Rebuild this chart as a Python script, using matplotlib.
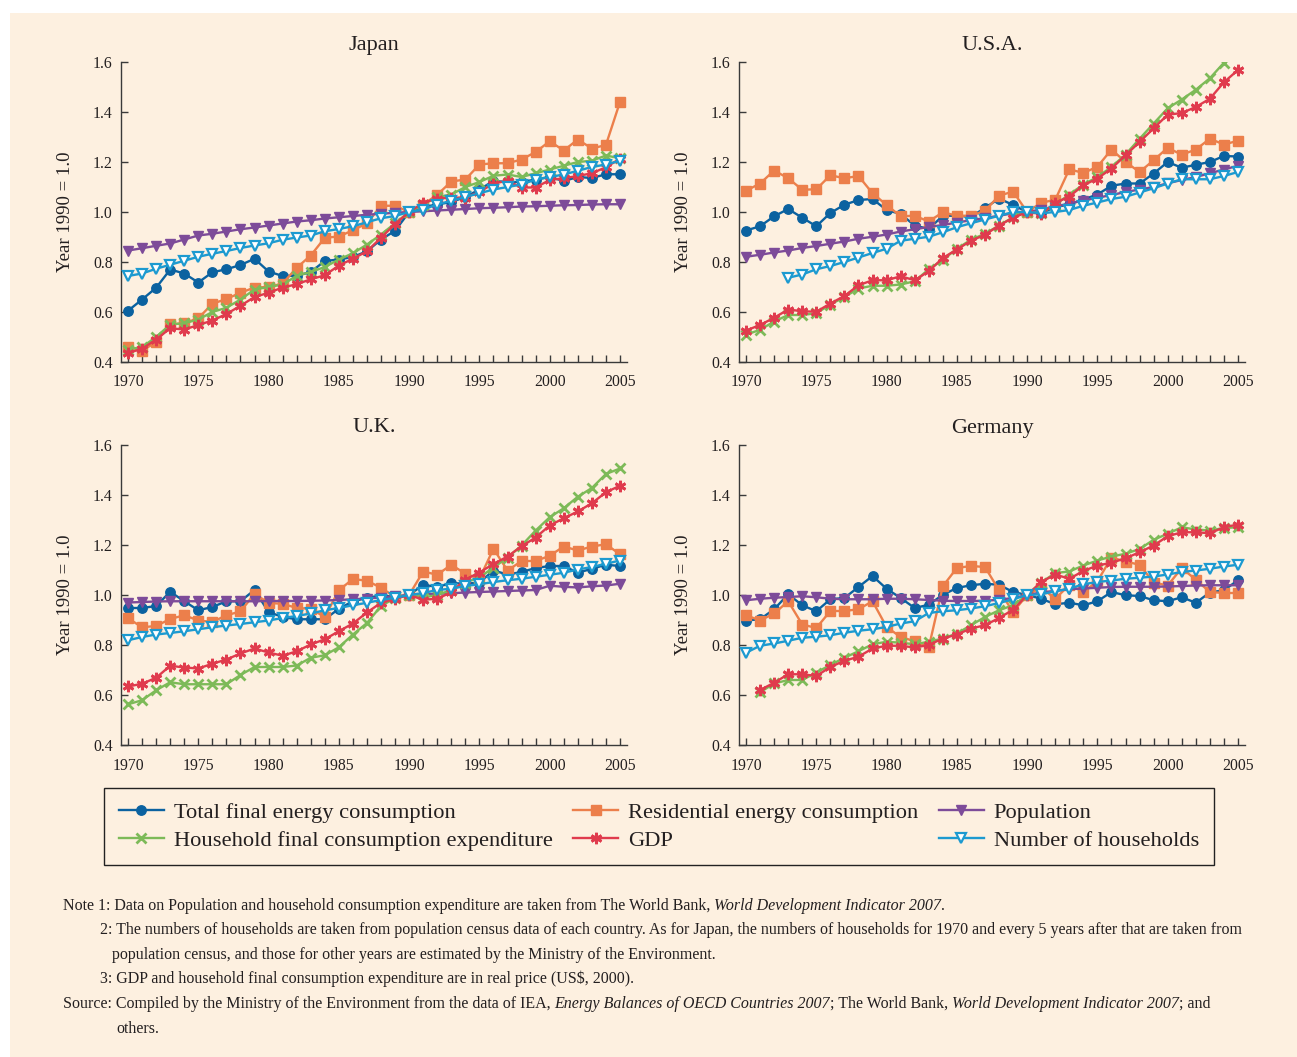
import numpy as np
import matplotlib
matplotlib.use("Agg")
import matplotlib.pyplot as plt
from matplotlib.ticker import MultipleLocator, FormatStrFormatter

plt.rcParams['font.family'] = ['Liberation Serif', 'DejaVu Serif']

nan = np.nan
years = list(range(1970, 2006))

countries = ["Japan", "U.S.A.", "U.K.", "Germany"]
series_names = ["Total final energy consumption", "Residential energy consumption", "Population",
                "Household final consumption expenditure", "GDP", "Number of households"]

# ---------------- Japan ----------------
jp_total = [0.605, 0.65, 0.697, 0.77, 0.754, 0.718, 0.759, 0.771, 0.788, 0.813,
            0.762, 0.744, 0.745, 0.76, 0.804, 0.81, 0.82, 0.843, 0.89, 0.925,
            1.0, 1.02, 1.03, 1.04, 1.06, 1.09, 1.124, 1.12, 1.12, 1.13,
            1.14, 1.124, 1.14, 1.136, 1.151, 1.151]
jp_resid = [0.462, 0.445, 0.48, 0.551, 0.555, 0.575, 0.633, 0.652, 0.677, 0.698,
            0.70, 0.714, 0.777, 0.826, 0.897, 0.902, 0.927, 0.955, 1.025, 1.025,
            1.0, 1.03, 1.069, 1.122, 1.13, 1.19, 1.195, 1.195, 1.21, 1.24,
            1.283, 1.246, 1.29, 1.254, 1.268, 1.44]
jp_pop = [0.846, 0.855, 0.865, 0.874, 0.89, 0.906, 0.913, 0.922, 0.931, 0.938,
          0.946, 0.954, 0.962, 0.967, 0.974, 0.979, 0.984, 0.989, 0.993, 0.997,
          1.0, 1.003, 1.006, 1.009, 1.012, 1.015, 1.017, 1.019, 1.022, 1.023,
          1.025, 1.027, 1.028, 1.030, 1.031, 1.031]
jp_hhexp = [0.45, 0.46, 0.50, 0.55, 0.555, 0.57, 0.60, 0.617, 0.65, 0.69,
            0.70, 0.71, 0.745, 0.76, 0.78, 0.81, 0.835, 0.87, 0.91, 0.955,
            1.0, 1.03, 1.06, 1.07, 1.10, 1.12, 1.145, 1.15, 1.14, 1.155,
            1.17, 1.185, 1.20, 1.205, 1.226, 1.215]
jp_gdp = [0.436, 0.453, 0.49, 0.535, 0.53, 0.548, 0.566, 0.592, 0.625, 0.66,
          0.677, 0.698, 0.711, 0.731, 0.747, 0.786, 0.813, 0.843, 0.897, 0.952,
          1.0, 1.037, 1.054, 1.057, 1.058, 1.08, 1.114, 1.125, 1.098, 1.098,
          1.128, 1.135, 1.144, 1.155, 1.179, 1.213]
jp_house = [0.744, 0.754, 0.773, 0.789, 0.805, 0.821, 0.833, 0.844, 0.856, 0.866,
            0.875, 0.889, 0.898, 0.906, 0.923, 0.932, 0.943, 0.959, 0.975, 0.984,
            1.0, 1.01, 1.03, 1.045, 1.06, 1.075, 1.09, 1.10, 1.11, 1.13,
            1.14, 1.15, 1.165, 1.18, 1.19, 1.205]

# ---------------- U.S.A. ----------------
us_total = [0.926, 0.943, 0.983, 1.012, 0.977, 0.943, 0.996, 1.029, 1.048, 1.052,
            1.008, 0.992, 0.946, 0.932, 0.985, 0.985, 0.981, 1.016, 1.054, 1.028,
            1.0, 0.995, 1.02, 1.03, 1.05, 1.07, 1.105, 1.114, 1.114, 1.154,
            1.2, 1.177, 1.189, 1.2, 1.224, 1.222]
us_resid = [1.085, 1.114, 1.166, 1.135, 1.089, 1.091, 1.147, 1.135, 1.144, 1.075,
            1.028, 0.983, 0.985, 0.962, 0.999, 0.985, 0.985, 1.005, 1.065, 1.082,
            1.0, 1.037, 1.049, 1.171, 1.156, 1.181, 1.25, 1.2, 1.16, 1.207,
            1.257, 1.229, 1.25, 1.293, 1.27, 1.285]
us_pop = [0.821, 0.829, 0.838, 0.846, 0.856, 0.864, 0.873, 0.882, 0.893, 0.901,
          0.91, 0.922, 0.931, 0.94, 0.948, 0.958, 0.967, 0.976, 0.985, 0.995,
          1.0, 1.01, 1.02, 1.035, 1.046, 1.057, 1.068, 1.08, 1.09, 1.10,
          1.115, 1.128, 1.14, 1.155, 1.17, 1.185]
us_hhexp = [0.509, 0.529, 0.562, 0.588, 0.588, 0.595, 0.63, 0.66, 0.694, 0.705,
            0.705, 0.71, 0.723, 0.771, 0.809, 0.853, 0.889, 0.913, 0.946, 0.979,
            1.0, 0.995, 1.03, 1.07, 1.11, 1.14, 1.18, 1.23, 1.293, 1.354,
            1.415, 1.45, 1.489, 1.535, 1.597, nan]
us_gdp = [0.526, 0.548, 0.577, 0.61, 0.603, 0.601, 0.634, 0.664, 0.707, 0.727,
          0.727, 0.743, 0.727, 0.763, 0.816, 0.85, 0.885, 0.909, 0.946, 0.977,
          1.0, 0.992, 1.036, 1.062, 1.107, 1.134, 1.174, 1.227, 1.28, 1.335,
          1.389, 1.396, 1.42, 1.453, 1.519, 1.568]
us_house = [nan, nan, nan, 0.737, 0.75, 0.771, 0.784, 0.8, 0.818, 0.836,
            0.853, 0.885, 0.893, 0.901, 0.919, 0.939, 0.955, 0.97, 0.985, 1.0,
            1.0, 0.995, 1.0, 1.008, 1.025, 1.038, 1.052, 1.061, 1.078, 1.095,
            1.114, 1.131, 1.131, 1.131, 1.144, 1.16]

# ---------------- U.K. ----------------
uk_total = [0.948, 0.948, 0.956, 1.013, 0.975, 0.939, 0.952, 0.975, 0.975, 1.02,
            0.932, 0.912, 0.903, 0.903, 0.903, 0.945, 0.975, 0.988, 0.999, 0.992,
            1.0, 1.041, 1.032, 1.048, 1.045, 1.05, 1.098, 1.082, 1.092, 1.108,
            1.116, 1.116, 1.089, 1.105, 1.121, 1.116]
uk_resid = [0.907, 0.871, 0.876, 0.904, 0.919, 0.898, 0.892, 0.919, 0.934, 1.005,
            0.968, 0.965, 0.948, 0.945, 0.912, 1.019, 1.064, 1.057, 1.029, 0.992,
            1.0, 1.094, 1.081, 1.121, 1.085, 1.065, 1.185, 1.098, 1.136, 1.136,
            1.157, 1.194, 1.178, 1.194, 1.203, 1.163]
uk_pop = [0.97, 0.972, 0.974, 0.975, 0.975, 0.975, 0.975, 0.975, 0.975, 0.975,
          0.976, 0.976, 0.976, 0.977, 0.978, 0.98, 0.983, 0.986, 0.99, 0.995,
          1.0, 1.003, 1.005, 1.007, 1.01, 1.012, 1.014, 1.016, 1.018, 1.02,
          1.037, 1.033, 1.03, 1.035, 1.038, 1.045]
uk_hhexp = [0.563, 0.579, 0.619, 0.651, 0.643, 0.643, 0.643, 0.643, 0.68, 0.712,
            0.712, 0.712, 0.718, 0.749, 0.759, 0.791, 0.842, 0.888, 0.956, 0.988,
            1.0, 0.99, 1.0, 1.02, 1.05, 1.07, 1.11, 1.15, 1.198, 1.258,
            1.311, 1.347, 1.393, 1.428, 1.484, 1.506]
uk_gdp = [0.634, 0.645, 0.669, 0.717, 0.71, 0.706, 0.725, 0.742, 0.766, 0.786,
          0.77, 0.757, 0.775, 0.802, 0.823, 0.855, 0.886, 0.93, 0.969, 0.985,
          1.0, 0.981, 0.985, 1.011, 1.062, 1.09, 1.124, 1.154, 1.195, 1.23,
          1.278, 1.307, 1.334, 1.367, 1.411, 1.437]
uk_house = [0.819, 0.832, 0.842, 0.848, 0.855, 0.863, 0.871, 0.878, 0.884, 0.891,
            0.898, 0.908, 0.916, 0.926, 0.939, 0.948, 0.959, 0.969, 0.98, 0.989,
            1.0, 1.008, 1.02, 1.025, 1.036, 1.043, 1.052, 1.059, 1.065, 1.073,
            1.081, 1.089, 1.102, 1.112, 1.125, 1.138]

# ---------------- Germany ----------------
de_total = [0.898, 0.903, 0.943, 1.003, 0.959, 0.935, 0.983, 0.988, 1.032, 1.076,
            1.025, 0.988, 0.948, 0.961, 1.001, 1.028, 1.039, 1.045, 1.041, 1.012,
            1.0, 0.985, 0.963, 0.969, 0.959, 0.975, 1.012, 0.999, 0.996, 0.979,
            0.975, 0.991, 0.969, 1.01, 1.019, 1.059]
de_resid = [0.919, 0.898, 0.926, 0.975, 0.882, 0.868, 0.936, 0.936, 0.943, 0.975,
            0.872, 0.832, 0.815, 0.79, 1.035, 1.108, 1.116, 1.112, 1.019, 0.932,
            1.0, 1.03, 0.985, 1.04, 1.012, 1.055, 1.15, 1.134, 1.121, 1.05,
            1.038, 1.108, 1.061, 1.012, 1.008, 1.008]
de_pop = [0.979, 0.985, 0.989, 0.992, 0.995, 0.991, 0.985, 0.983, 0.983, 0.983,
          0.985, 0.985, 0.983, 0.98, 0.977, 0.976, 0.976, 0.977, 0.981, 0.988,
          1.0, 1.01, 1.017, 1.023, 1.026, 1.029, 1.032, 1.033, 1.033, 1.033,
          1.034, 1.036, 1.038, 1.039, 1.039, 1.039]
de_hhexp = [nan, 0.611, 0.646, 0.66, 0.66, 0.69, 0.72, 0.749, 0.775, 0.803,
            0.813, 0.809, 0.803, 0.813, 0.826, 0.846, 0.879, 0.912, 0.939, 0.959,
            1.0, 1.05, 1.088, 1.094, 1.118, 1.138, 1.154, 1.165, 1.184, 1.221,
            1.245, 1.271, 1.262, 1.258, 1.268, 1.271]
de_gdp = [nan, 0.62, 0.649, 0.683, 0.683, 0.676, 0.712, 0.737, 0.753, 0.786,
          0.797, 0.797, 0.79, 0.8, 0.826, 0.842, 0.866, 0.879, 0.908, 0.941,
          1.0, 1.052, 1.082, 1.065, 1.096, 1.118, 1.129, 1.147, 1.171, 1.198,
          1.235, 1.251, 1.251, 1.247, 1.271, 1.282]
de_house = [0.769, 0.797, 0.806, 0.817, 0.829, 0.833, 0.839, 0.849, 0.857, 0.863,
            0.872, 0.886, 0.895, 0.928, 0.935, 0.939, 0.946, 0.955, 0.968, 0.983,
            1.0, 1.003, 1.015, 1.025, 1.043, 1.052, 1.058, 1.065, 1.069, 1.074,
            1.082, 1.092, 1.098, 1.105, 1.114, 1.121]

data = {
    "Japan":   [jp_total, jp_resid, jp_pop, jp_hhexp, jp_gdp, jp_house],
    "U.S.A.":  [us_total, us_resid, us_pop, us_hhexp, us_gdp, us_house],
    "U.K.":    [uk_total, uk_resid, uk_pop, uk_hhexp, uk_gdp, uk_house],
    "Germany": [de_total, de_resid, de_pop, de_hhexp, de_gdp, de_house],
}

# ---------------- styling ----------------
W, H = 1297, 1057
BG = '#fdf0e0'
TXT = '#231f20'
colors = ['#0b62a0', '#ec7f4b', '#7d4b99', '#7dba58', '#e03b4d', '#1c9ad0']
styles = [
    dict(marker='o', ms=6.8, mfc=colors[0], mec=colors[0], mew=1),
    dict(marker='s', ms=6.8, mfc=colors[1], mec=colors[1], mew=1),
    dict(marker='v', ms=6.8, mfc=colors[2], mec=colors[2], mew=1),
    dict(marker='x', ms=6.8, mfc=colors[3], mec=colors[3], mew=2.0),
    dict(marker=(6, 2, 0), ms=8.2, mfc=colors[4], mec=colors[4], mew=2.0),
    dict(marker='v', ms=7.2, mfc='white', mec=colors[5], mew=1.6),
]

fig = plt.figure(figsize=(W / 100, H / 100), dpi=100)
fig.patch.set_facecolor('white')
fig.patches.append(plt.Rectangle((10 / W, 0), 1 - 10 / W, 1 - 13 / H, transform=fig.transFigure,
                                 facecolor=BG, edgecolor='none', zorder=-10))

def px_box(left, top, right, bottom):
    return [left / W, 1 - bottom / H, (right - left) / W, (bottom - top) / H]

boxes = {
    "Japan":   px_box(121, 62, 627, 362),
    "U.S.A.":  px_box(739, 62, 1245, 362),
    "U.K.":    px_box(121, 445, 627, 745),
    "Germany": px_box(739, 445, 1245, 745),
}

handles = []
for c in countries:
    ax = fig.add_axes(boxes[c])
    ax.set_facecolor('none')
    for i, s in enumerate(data[c]):
        ln, = ax.plot(years, s, color=colors[i], lw=1.7, zorder=2 + i, **styles[i],
                      label=series_names[i])
        if c == "Japan":
            handles.append(ln)
    ax.set_xlim(1969.5, 2005.5)
    ax.set_ylim(0.4, 1.6)
    for sp in ['top', 'right']:
        ax.spines[sp].set_visible(False)
    for sp in ['left', 'bottom']:
        ax.spines[sp].set_color('#3a3a3a')
        ax.spines[sp].set_linewidth(1.0)
    ax.xaxis.set_major_locator(MultipleLocator(5))
    ax.xaxis.set_minor_locator(MultipleLocator(1))
    ax.yaxis.set_major_locator(MultipleLocator(0.2))
    ax.yaxis.set_major_formatter(FormatStrFormatter('%.1f'))
    ax.tick_params(axis='both', which='both', direction='in', length=5, width=1.0,
                   color='#3a3a3a', labelcolor=TXT, labelsize=11.3)
    ax.tick_params(axis='x', which='both', pad=9)
    ax.tick_params(axis='y', which='both', pad=6)
    ax.set_title(c, fontsize=16, color=TXT, pad=9)
    ax.set_ylabel('Year 1990 = 1.0', fontsize=13.5, color=TXT)
    ax.yaxis.set_label_coords(-47 / 506, 0.5)

# legend
order = [0, 3, 1, 4, 2, 5]
leg = fig.legend([handles[i] for i in order], [series_names[i] for i in order],
                 ncol=3, loc='center', bbox_to_anchor=((99 + 1213) / 2 / W + 3 / W, 1 - (787 + 866) / 2 / H),
                 fontsize=16.2, frameon=True, fancybox=False, edgecolor='#222222',
                 facecolor=BG, framealpha=1, handlelength=2.0, handletextpad=0.45,
                 columnspacing=0.9, labelspacing=0.3, borderpad=0.65, borderaxespad=0)
leg.get_frame().set_linewidth(1.0)
for t in leg.get_texts():
    t.set_color(TXT)

# notes with mixed italic runs
renderer = fig.canvas.get_renderer()
NOTE_FS = 11.55

def advance(s, style):
    t1 = fig.text(0, 0, '|' + s + '|', fontsize=NOTE_FS, style=style, parse_math=False)
    t2 = fig.text(0, 0, '||', fontsize=NOTE_FS, style=style, parse_math=False)
    w = t1.get_window_extent(renderer).width - t2.get_window_extent(renderer).width
    t1.remove(); t2.remove()
    return w

def runs_line(x, y, runs):
    for s, style in runs:
        fig.text(x / W, 1 - y / H, s, fontsize=NOTE_FS, style=style, color=TXT,
                 ha='left', va='baseline', parse_math=False)
        x += advance(s, style)

n, it = 'normal', 'italic'
note_lines = [
    (63, 910, [("Note 1: Data on Population and household consumption expenditure are taken from The World Bank, ", n),
               ("World Development Indicator 2007", it), (".", n)]),
    (100, 934, [("2: The numbers of households are taken from population census data of each country. As for Japan, the numbers of households for 1970 and every 5 years after that are taken from", n)]),
    (112, 959, [("population census, and those for other years are estimated by the Ministry of the Environment.", n)]),
    (100, 983, [("3: GDP and household final consumption expenditure are in real price (US$, 2000).", n)]),
    (63, 1008, [("Source: Compiled by the Ministry of the Environment from the data of IEA, ", n),
                ("Energy Balances of OECD Countries 2007", it), ("; The World Bank, ", n),
                ("World Development Indicator 2007", it), ("; and", n)]),
    (116, 1033, [("others.", n)]),
]
for x, y, runs in note_lines:
    runs_line(x, y, runs)

fig.savefig('out.png', dpi=100, facecolor=fig.get_facecolor())
